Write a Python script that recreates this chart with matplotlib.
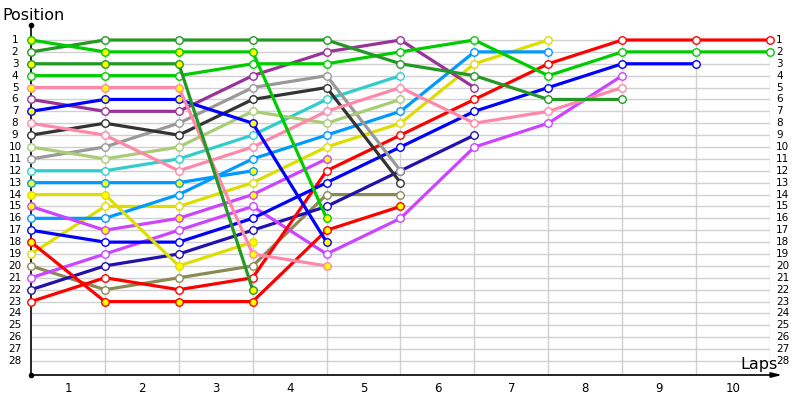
import matplotlib
matplotlib.use("Agg")
import matplotlib.pyplot as plt
from matplotlib.transforms import blended_transform_factory

# ---- data: positions at each lap boundary (index 0 = start) ----
laps = ["1", "2", "3", "4", "5", "6", "7", "8", "9", "10"]
pos_labels = list(range(1, 29))

dkgreen_a = [2, 1, 1, 1, 1, 3, 4, 6, 6]
lime_a = [1, 2, 2, 2, 16]
dkgreen_b = [3, 3, 3, 22]
lime_b = [4, 4, 4, 3, 3, 2, 1, 4, 2, 2, 2]
pink_a = [5, 5, 5, 19, 20]
purple = [6, 7, 7, 4, 2, 1, 5]
blue_a = [7, 6, 6, 8, 18]
pink_b = [8, 9, 12, 10, 7, 5, 8, 7, 5]
black = [9, 8, 9, 6, 5, 13]
ltgreen = [10, 11, 10, 7, 8, 6]
gray = [11, 10, 8, 5, 4, 12]
teal = [12, 12, 11, 9, 6, 4]
sky_a = [13, 13, 13, 12]
yellow_a = [14, 14, 20, 18]
violet_a = [15, 17, 16, 14, 11]
sky_b = [16, 16, 14, 11, 9, 7, 2, 2]
blue_b = [17, 18, 18, 16, 13, 10, 7, 5, 3, 3]
red_a = [18, 23, 23, 23, 17, 15]
yellow_b = [19, 15, 15, 13, 10, 8, 3, 1]
olive = [20, 22, 21, 20, 14, 14]
violet_b = [21, 19, 17, 15, 19, 16, 10, 8, 4]
navy = [22, 20, 19, 17, 15, 12, 9]
red_b = [23, 21, 22, 21, 12, 9, 6, 3, 1, 1, 1]

series = [
    (olive, "#8a8a55", False),
    (navy, "#2211aa", False),
    (violet_b, "#cc44ff", False),
    (red_b, "#ff0000", False),
    (yellow_b, "#dddd00", False),
    (blue_b, "#0000ff", False),
    (sky_b, "#0099ff", False),
    (teal, "#33cccc", False),
    (gray, "#999999", False),
    (ltgreen, "#aacc77", False),
    (black, "#333333", False),
    (pink_b, "#ff88aa", False),
    (purple, "#993399", False),
    (lime_b, "#00cc00", False),
    (dkgreen_a, "#229922", False),
    (red_a, "#ff0000", True),
    (violet_a, "#cc44ff", True),
    (yellow_a, "#dddd00", True),
    (sky_a, "#0099ff", True),
    (blue_a, "#0000ff", True),
    (pink_a, "#ff88aa", True),
    (dkgreen_b, "#229922", True),
    (lime_a, "#00cc00", True),
]

fig = plt.figure(figsize=(8, 4), dpi=100)
ax = fig.add_axes([31 / 800, 25 / 400, 739 / 800, 350 / 400])
ymax = 28 + 14 / 11.89
ymin = 1 - 15 / 11.89
ax.set_xlim(0, 10)
ax.set_ylim(ymax, ymin)
ax.axis("off")

# grid
for p in pos_labels:
    ax.plot([0, 10], [p, p], color="#d0d0d0", lw=1, zorder=1)
for i in range(1, 11):
    ax.plot([i, i], [1, ymax], color="#d0d0d0", lw=1, zorder=1)

# axes lines
ax.plot([0, 0], [ymax, ymin], color="black", lw=1.2, zorder=2, clip_on=False)
ax.plot([0], [ymin], marker="o", ms=3, color="black", clip_on=False, zorder=3)
ax.plot([0], [ymax], marker="o", ms=3, color="black", clip_on=False, zorder=3)
ax.annotate("", xy=(10.2, ymax), xytext=(0, ymax),
            arrowprops=dict(arrowstyle="-|>,head_length=0.6,head_width=0.15",
                            color="black", lw=1.2), annotation_clip=False)

# series
for vals, col, yel in series:
    xs = list(range(len(vals)))
    ax.plot(xs, vals, color=col, lw=2.3, marker="o", ms=5.4,
            mfc="#ffff00" if yel else "white", mec=col, mew=1.0,
            zorder=4, clip_on=False, solid_joinstyle="round")

# labels
tl = blended_transform_factory(ax.transAxes, ax.transData)
for p in pos_labels:
    ax.text(-16 / 739, p, str(p), transform=tl, ha="center", va="center",
            fontsize=7.5, color="black")
    ax.text(1.0085, p, str(p), transform=tl, ha="left", va="center",
            fontsize=7.5, color="black")

tb = blended_transform_factory(ax.transData, ax.transAxes)
for i, lab in enumerate(laps):
    ax.text(i + 0.5, -13 / 350, lab, transform=tb, ha="center", va="center",
            fontsize=8.5, color="black")

fig.text(33 / 800, 1 - 15 / 400, "Position", ha="center", va="center", fontsize=11.5)
fig.text(759 / 800, 1 - 364 / 400, "Laps", ha="center", va="center", fontsize=11.5)

fig.savefig("out.png", dpi=100)
